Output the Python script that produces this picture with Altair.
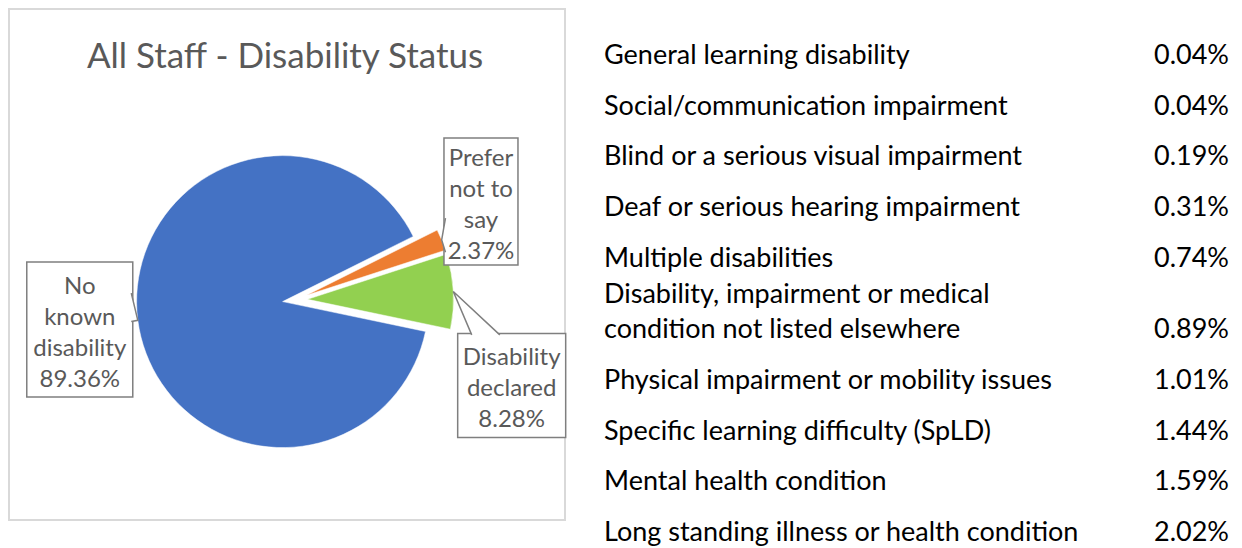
import math
import altair as alt
import pandas as pd

# ---------------- data ----------------
chart_title = "All Staff - Disability Status"
pie_categories = ["No known disability", "Disability declared", "Prefer not to say"]
pie_values = [89.36, 8.28, 2.37]
pie_label_words = ["No\nknown\ndisability", "Disability\ndeclared", "Prefer\nnot to\nsay"]
pie_colors = ["#4472C4", "#92D050", "#ED7D31"]

table_labels = [
    "General learning disability",
    "Social/communication impairment",
    "Blind or a serious visual impairment",
    "Deaf or serious hearing impairment",
    "Multiple disabilities",
    "Disability, impairment or medical\ncondition not listed elsewhere",
    "Physical impairment or mobility issues",
    "Specific learning difficulty (SpLD)",
    "Mental health condition",
    "Long standing illness or health condition",
]
table_values = [0.04, 0.04, 0.19, 0.31, 0.74, 0.89, 1.01, 1.44, 1.59, 2.02]

# ---------------- layout ----------------
W, H = 1226, 540
FRAME = (1, 1, 557, 512)
CX, CY = 287, 292          # pie centre
R = 146                    # pie radius
EXPLODE = 12.5             # slice explosion
START = math.radians(72)   # angle of first slice
LABEL_R = 215
FONT = "Lato"
GREY_TEXT = "#595959"
BOX_STROKE = "#7f7f7f"
CALLOUT_LH = 31
CALLOUT_TEXT_DY = 4
TABLE_LH = 35
EXTRA_LINE_FRAC = 0.4      # extra row pitch per additional wrapped line
TABLE_Y_RANGE = (62, 539)
# callout layout: nudge of box centre, box size, pointer side and base fractions
CALLOUTS = {
    "No known disability": dict(nudge=(-2, 2), w=106, h=135, side="right", base=(0.23, 0.44)),
    "Prefer not to say": dict(nudge=(-13, -17), w=74, h=127, side="left", base=(0.63, 0.90)),
    "Disability declared": dict(nudge=(2, 97), w=108, h=104, side="top", base=(0.13, 0.39)),
}

# ---------------- pie ----------------
total = sum(pie_values)
order_names = sorted(pie_categories)
pie_df = pd.DataFrame({
    "category": pie_categories,
    "value": pie_values,
    "k": [order_names.index(c) for c in pie_categories],
})

arcs = (
    alt.Chart(pie_df)
    .transform_joinaggregate(total="sum(value)")
    .transform_stack(stack="value", as_=["t0", "t1"], groupby=[],
                     sort=[alt.SortField("k", order="ascending")])
    .transform_calculate(
        mid=f"{START} + PI*(datum.t0 + datum.t1)/datum.total",
        ax=f"{CX} + {EXPLODE}*sin(datum.mid)",
        ay=f"{CY} - {EXPLODE}*cos(datum.mid)",
    )
    .mark_arc(outerRadius=R, stroke="white", strokeWidth=0.5)
    .encode(
        theta=alt.Theta("t0:Q", stack=None,
                        scale=alt.Scale(domain=[0, total], range=[START, START + 2 * math.pi])),
        theta2="t1:Q",
        color=alt.Color("category:N", scale=alt.Scale(domain=pie_categories, range=pie_colors),
                        legend=None),
        x=alt.X("ax:Q", scale=None, axis=None),
        y=alt.Y("ay:Q", scale=None, axis=None),
    )
)

# ---------------- callouts (geometry from slice mid-angles) ----------------
box_rows, ptr_rows, txt_rows = [], [], []
cum = 0.0
for name in order_names:
    i = pie_categories.index(name)
    v = pie_values[i]
    mid = START + 2 * math.pi * (cum + v / 2) / total
    cum += v
    dx, dy = math.sin(mid), -math.cos(mid)
    apx, apy = CX + EXPLODE * dx, CY + EXPLODE * dy
    tipx, tipy = apx + R * dx, apy + R * dy
    c = CALLOUTS[name]
    bx = CX + LABEL_R * dx + c["nudge"][0]
    by = CY + LABEL_R * dy + c["nudge"][1]
    x0, x1 = bx - c["w"] / 2, bx + c["w"] / 2
    y0, y1 = by - c["h"] / 2, by + c["h"] / 2
    box_rows.append(dict(name=name, x0=x0, x1=x1, y0=y0, y1=y1))
    text = pie_label_words[i] + "\n" + f"{v:.2f}%"
    n_lines = text.count("\n") + 1
    txt_rows.append(dict(name=name, cx=bx,
                         cy=by - (n_lines - 1) * CALLOUT_LH / 2 + CALLOUT_TEXT_DY, text=text))
    f0, f1 = c["base"]
    ins = 1.5
    if c["side"] == "right":
        b0, b1 = (x1 - ins, y0 + f0 * c["h"]), (x1 - ins, y0 + f1 * c["h"])
    elif c["side"] == "left":
        b0, b1 = (x0 + ins, y0 + f0 * c["h"]), (x0 + ins, y0 + f1 * c["h"])
    else:
        b0, b1 = (x0 + f0 * c["w"], y0 + ins), (x0 + f1 * c["w"], y0 + ins)
    for o, (px, py) in enumerate([b0, (tipx, tipy), b1]):
        ptr_rows.append(dict(name=name, o=o, px=px, py=py))

box_df = pd.DataFrame(box_rows)
ptr_df = pd.DataFrame(ptr_rows)
txt_df = pd.DataFrame(txt_rows)

boxes = alt.Chart(box_df).mark_rect(fill="white", stroke=BOX_STROKE, strokeWidth=1.5).encode(
    x=alt.X("x0:Q", scale=None, axis=None), x2="x1:Q",
    y=alt.Y("y0:Q", scale=None, axis=None), y2="y1:Q",
)
pointers = alt.Chart(ptr_df).mark_line(stroke=BOX_STROKE, strokeWidth=1.5, fill="white").encode(
    x=alt.X("px:Q", scale=None, axis=None),
    y=alt.Y("py:Q", scale=None, axis=None),
    detail="name:N",
    order="o:Q",
)
callout_text = alt.Chart(txt_df).mark_text(
    font=FONT, fontSize=24, color=GREY_TEXT, align="center", baseline="middle",
    lineBreak="\n", lineHeight=CALLOUT_LH,
).encode(
    x=alt.X("cx:Q", scale=None, axis=None),
    y=alt.Y("cy:Q", scale=None, axis=None),
    text="text:N",
)

# ---------------- frame + title ----------------
one = pd.DataFrame({"t": [chart_title]})
frame = alt.Chart(one).mark_rect(fill="white", stroke="#d9d9d9", strokeWidth=2).encode(
    x=alt.value(FRAME[0]), x2=alt.value(FRAME[2]), y=alt.value(FRAME[1]), y2=alt.value(FRAME[3])
)
title = alt.Chart(one).mark_text(
    font=FONT, fontSize=35, color=GREY_TEXT, align="center", baseline="alphabetic"
).encode(x=alt.value(277), y=alt.value(60), text="t:N")

# ---------------- table ----------------
nlines = [s.count("\n") + 1 for s in table_labels]
table_df = pd.DataFrame({
    "idx": list(range(len(table_labels))),
    "label": table_labels,
    "pct": [f"{v:.2f}%" for v in table_values],
    "nlines": nlines,
})
pos_max = sum(1 + (n - 1) * EXTRA_LINE_FRAC for n in nlines)
table_base = (
    alt.Chart(table_df)
    .transform_calculate(u=f"1 + (datum.nlines - 1) * {EXTRA_LINE_FRAC}")
    .transform_window(pos="sum(u)", sort=[alt.SortField("idx", order="ascending")],
                      frame=[None, 0])
)
row_y = alt.Y("pos:Q", axis=None,
              scale=alt.Scale(domain=[1, pos_max], range=list(TABLE_Y_RANGE), zero=False,
                              nice=False))
label_layers = []
for n in sorted(set(nlines)):
    label_layers.append(
        table_base.transform_filter(alt.datum.nlines == n).mark_text(
            font=FONT, fontSize=27, color="#000000", align="left", baseline="bottom",
            lineBreak="\n", lineHeight=TABLE_LH, dy=-(n - 1) * TABLE_LH,
        ).encode(x=alt.value(596), y=row_y, text="label:N")
    )
tbl_pct = table_base.mark_text(
    font=FONT, fontSize=27, color="#000000", align="right", baseline="bottom",
).encode(x=alt.value(1221), y=row_y, text="pct:N")

chart = alt.layer(
    frame, title, arcs, boxes, pointers, callout_text, *label_layers, tbl_pct
).properties(
    width=W, height=H, padding=0, autosize=alt.AutoSizeParams(type="none")
).configure_view(stroke=None)

chart.save("out.html", embed_options={"renderer": "svg", "actions": False})
